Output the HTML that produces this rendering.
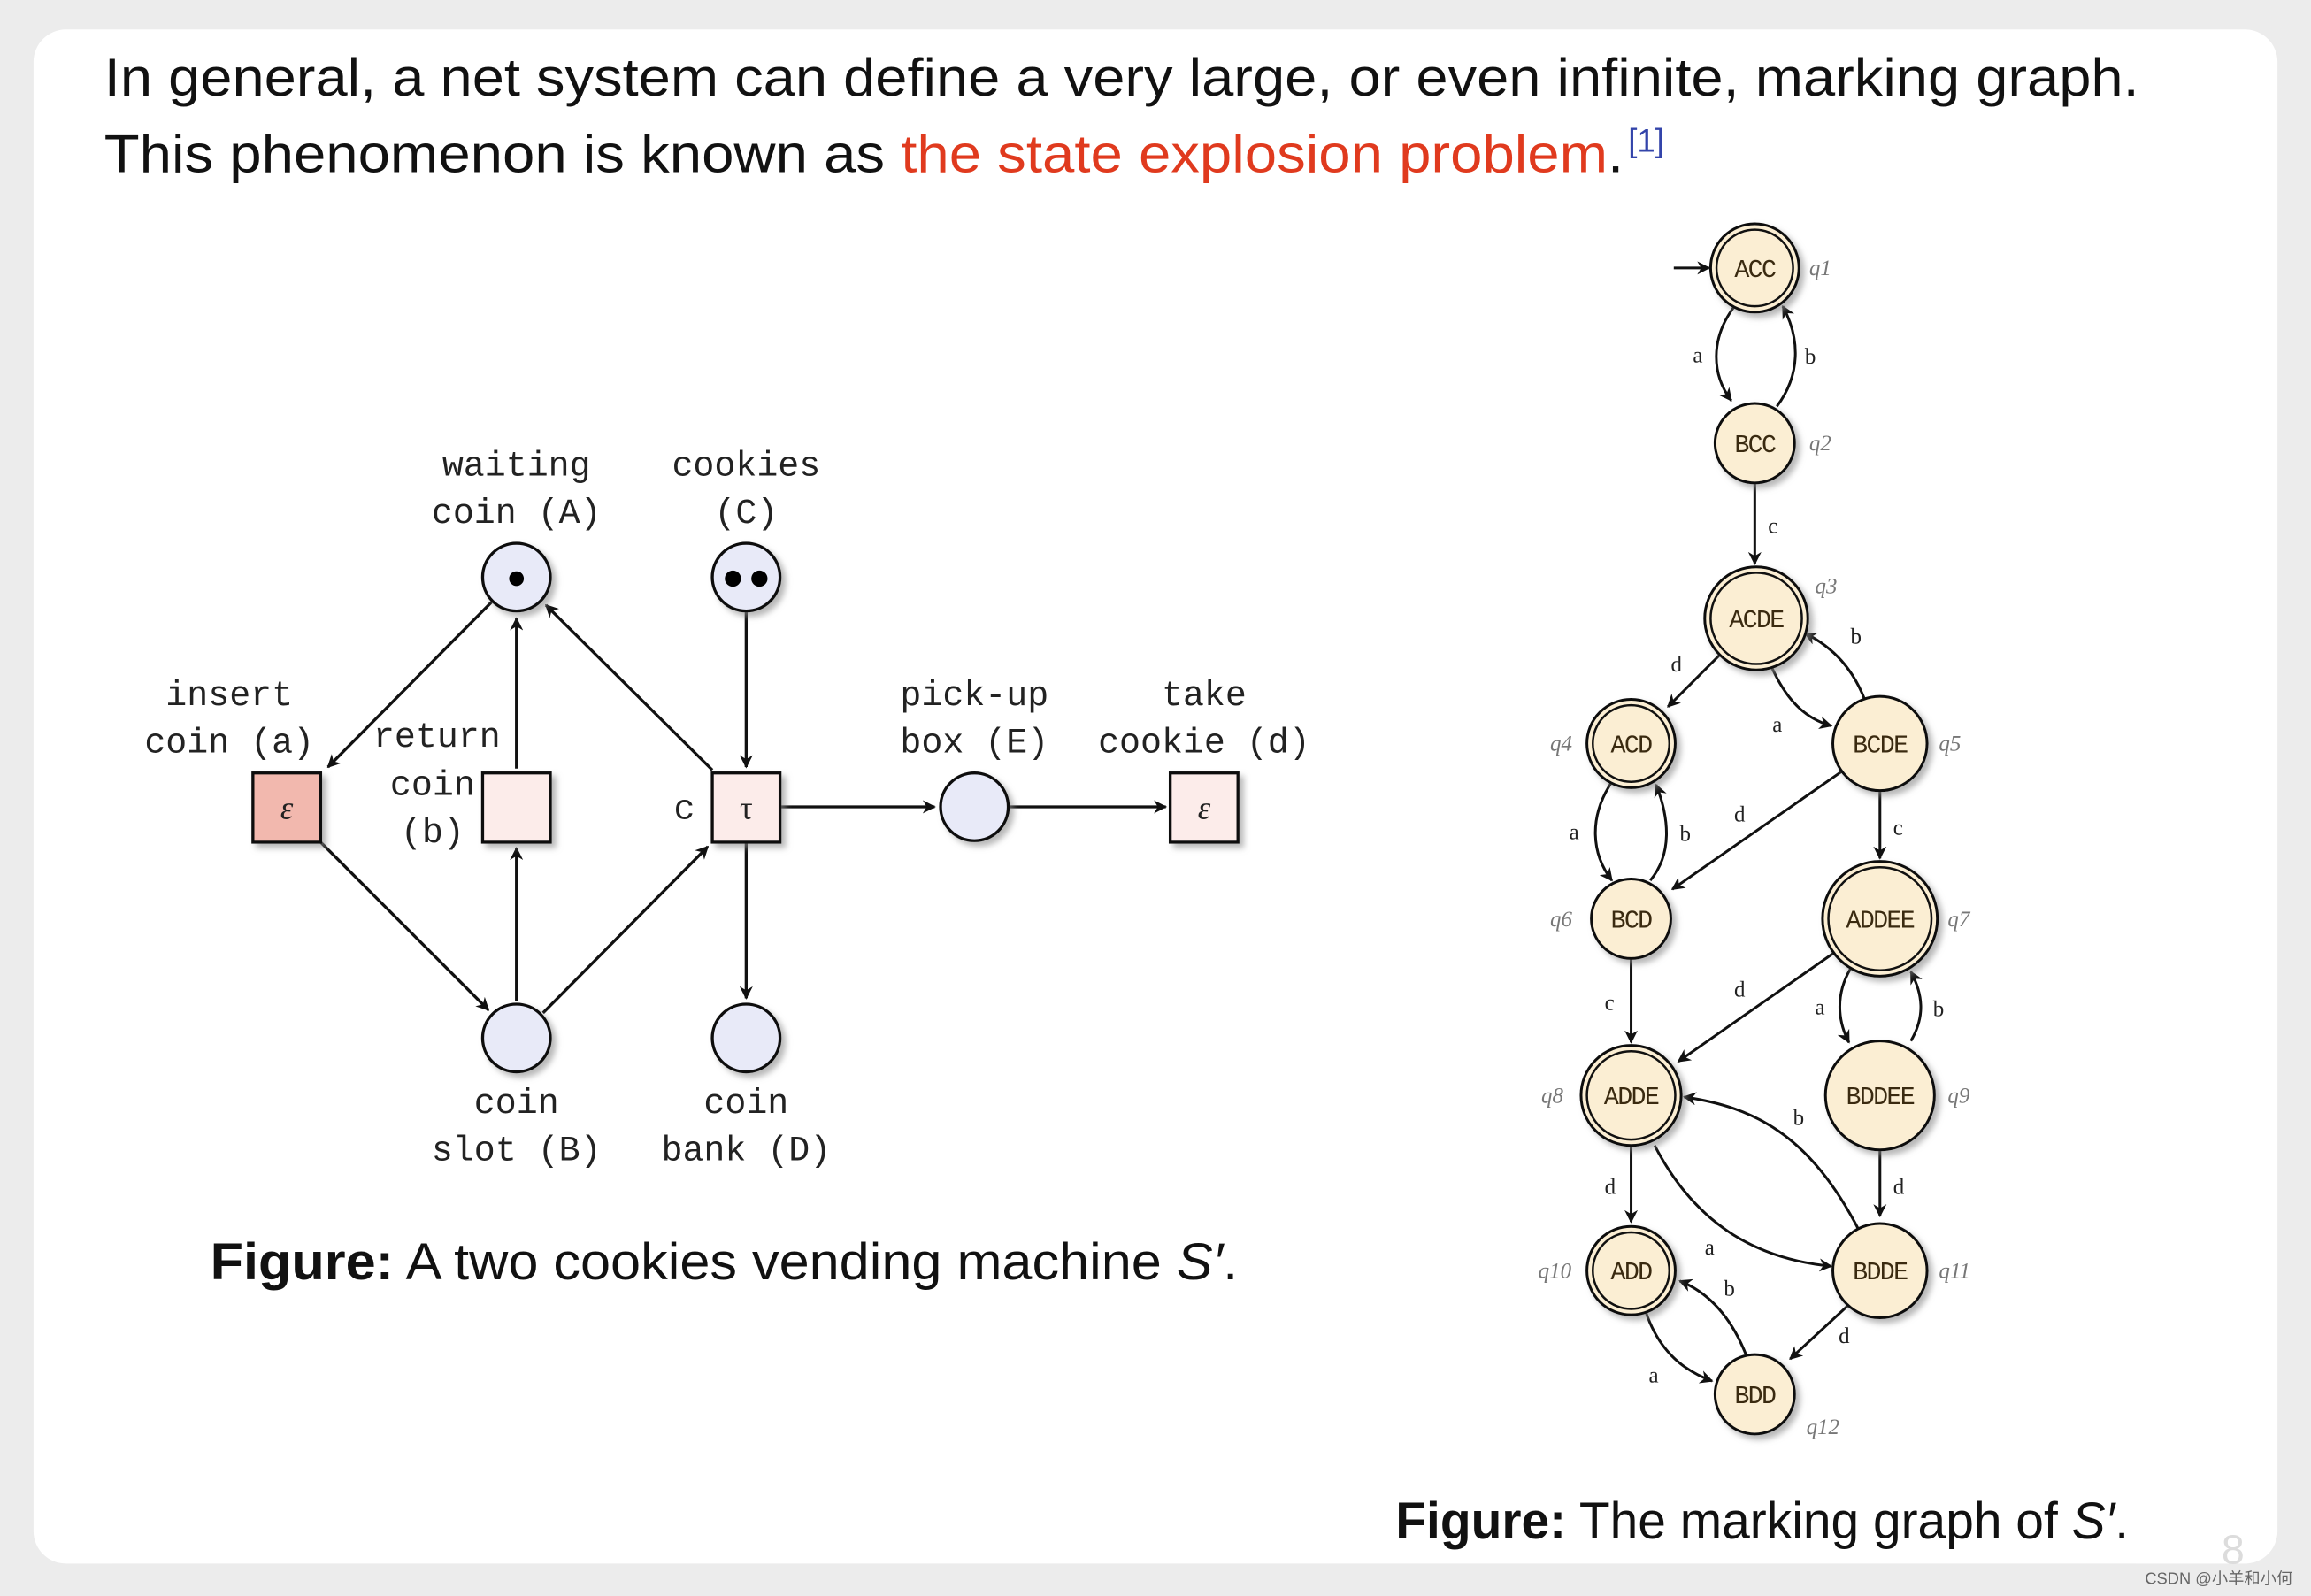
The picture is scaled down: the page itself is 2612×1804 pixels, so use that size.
<!DOCTYPE html>
<html><head><meta charset="utf-8"><style>
html,body{margin:0;padding:0;background:#ececec;}
svg{display:block}
.m{font-family:"Liberation Mono",monospace;font-size:24px;fill:#222}
.s{font-family:"Liberation Sans",sans-serif;fill:#111}
.n{font-family:"Liberation Mono",monospace;font-size:17px;fill:#3a2a10;text-anchor:middle;letter-spacing:-1px}
.q{font-family:"Liberation Serif",serif;font-size:15px;font-style:italic;fill:#777}
.l{font-family:"Liberation Serif",serif;font-size:15px;fill:#222}
</style></head><body>
<svg width="2612" height="1804" viewBox="0 0 1568 1084" xmlns="http://www.w3.org/2000/svg">
<defs>
<marker id="ar" viewBox="0 0 10 10" refX="9" refY="5" markerWidth="9" markerHeight="9" orient="auto-start-reverse" markerUnits="userSpaceOnUse"><path d="M0,0 L10,5 L0,10 L3,5z" fill="#111"/></marker>
<filter id="sh" x="-20%" y="-20%" width="150%" height="150%"><feDropShadow dx="3" dy="3" stdDeviation="2" flood-color="#888" flood-opacity="0.6"/></filter>
</defs>
<rect x="0" y="0" width="1568" height="1084" fill="#ececec"/>
<rect x="22" y="20" width="1524" height="1042" rx="22" fill="#fff"/>
<text class="s" x="70" y="65" font-size="36" textLength="1382" lengthAdjust="spacingAndGlyphs">In general, a net system can define a very large, or even infinite, marking graph.</text>
<text class="s" x="70" y="117" font-size="36" textLength="1032" lengthAdjust="spacingAndGlyphs">This phenomenon is known as <tspan style="fill:#e03a1e">the state explosion problem</tspan>.</text>
<text x="1105" y="103" font-size="22" style="fill:#3344aa;font-family:'Liberation Sans',sans-serif">[1]</text>

<!-- Petri net -->
<g stroke="#111" stroke-width="2" fill="none" marker-end="url(#ar)">
<line x1="333" y1="409" x2="222" y2="521"/>
<line x1="350" y1="522" x2="350" y2="420"/>
<line x1="483" y1="523" x2="370" y2="411"/>
<line x1="506" y1="415" x2="506" y2="521"/>
<line x1="217" y1="572" x2="331" y2="686"/>
<line x1="350" y1="680" x2="350" y2="576"/>
<line x1="368" y1="688" x2="480" y2="575"/>
<line x1="506" y1="572" x2="506" y2="678"/>
<line x1="529" y1="548" x2="634" y2="548"/>
<line x1="685" y1="548" x2="791" y2="548"/>
</g>
<g filter="url(#sh)" stroke="#111" stroke-width="2">
<circle cx="350" cy="392" r="23" fill="#e8eaf8"/>
<circle cx="506" cy="392" r="23" fill="#e8eaf8"/>
<circle cx="350" cy="705" r="23" fill="#e8eaf8"/>
<circle cx="506" cy="705" r="23" fill="#e8eaf8"/>
<circle cx="661" cy="548" r="23" fill="#e8eaf8"/>
<rect x="171" y="525" width="46" height="47" fill="#f2b8ae"/>
<rect x="327" y="525" width="46" height="47" fill="#fcecea"/>
<rect x="483" y="525" width="46" height="47" fill="#fcecea"/>
<rect x="794" y="525" width="46" height="47" fill="#fcecea"/>
</g>
<circle cx="350" cy="393" r="5" fill="#000"/>
<circle cx="497" cy="393" r="5.5" fill="#000"/><circle cx="515" cy="393" r="5.5" fill="#000"/>
<text class="l" x="194" y="556" text-anchor="middle" style="font-size:22px;font-style:italic">ε</text>
<text class="l" x="506" y="556" text-anchor="middle" style="font-size:22px">τ</text>
<text class="l" x="817" y="556" text-anchor="middle" style="font-size:22px;font-style:italic">ε</text>
<g class="m" text-anchor="middle">
<text x="350" y="323">waiting</text><text x="350" y="355">coin (A)</text>
<text x="506" y="323">cookies</text><text x="506" y="355">(C)</text>
<text x="155" y="479">insert</text><text x="155" y="511">coin (a)</text>
<text x="296" y="507">return</text><text x="293" y="540">coin</text><text x="293" y="572">(b)</text>
<text x="464" y="556">c</text>
<text x="661" y="479">pick-up</text><text x="661" y="511">box (E)</text>
<text x="817" y="479">take</text><text x="817" y="511">cookie (d)</text>
<text x="350" y="756">coin</text><text x="350" y="788">slot (B)</text>
<text x="506" y="756">coin</text><text x="506" y="788">bank (D)</text>
</g>
<text class="s" x="142" y="869" font-size="35" textLength="698" lengthAdjust="spacingAndGlyphs"><tspan font-weight="bold">Figure:</tspan> A two cookies vending machine <tspan font-style="italic">S′</tspan>.</text>

<!-- Marking graph edges -->
<g stroke="#111" stroke-width="1.8" fill="none" marker-end="url(#ar)">
<line x1="1136" y1="182" x2="1160" y2="182"/>
<path d="M1178,207 C1160,230 1162,255 1175,272"/>
<path d="M1206,276 C1222,255 1222,230 1210,208"/>
<line x1="1191" y1="328" x2="1191" y2="383"/>
<line x1="1168" y1="444" x2="1132" y2="480"/>
<path d="M1202,452 C1212,475 1225,488 1243,493"/>
<path d="M1266,476 C1258,455 1245,440 1225,430"/>
<path d="M1094,531 C1078,555 1080,580 1094,598"/>
<path d="M1120,598 C1135,580 1133,556 1124,533"/>
<line x1="1250" y1="524" x2="1135" y2="604"/>
<line x1="1276" y1="537" x2="1276" y2="583"/>
<line x1="1245" y1="647" x2="1139" y2="721"/>
<path d="M1256,658 C1246,675 1247,693 1255,708"/>
<path d="M1297,707 C1307,690 1305,675 1297,660"/>
<line x1="1107" y1="651" x2="1107" y2="708"/>
<line x1="1276" y1="780" x2="1276" y2="826"/>
<path d="M1262,836 C1228,770 1190,752 1143,745"/>
<path d="M1123,778 C1150,830 1190,855 1243,860"/>
<line x1="1107" y1="776" x2="1107" y2="830"/>
<path d="M1117,891 C1125,915 1140,930 1162,938"/>
<path d="M1185,920 C1175,895 1160,878 1140,870"/>
<line x1="1254" y1="887" x2="1215" y2="923"/>
</g>
<g filter="url(#sh)" stroke="#111" stroke-width="1.8" fill="#fbeed3">
<circle cx="1191" cy="182" r="30"/>
<circle cx="1191" cy="301" r="27"/>
<circle cx="1192" cy="420" r="35"/>
<circle cx="1107" cy="505" r="30"/>
<circle cx="1276" cy="505" r="32"/>
<circle cx="1107" cy="624" r="27"/>
<circle cx="1276" cy="624" r="39"/>
<circle cx="1107" cy="744" r="34"/>
<circle cx="1276" cy="744" r="37"/>
<circle cx="1107" cy="863" r="30"/>
<circle cx="1276" cy="863" r="32"/>
<circle cx="1191" cy="947" r="27"/>
</g>
<g stroke="#111" stroke-width="1.5" fill="none">
<circle cx="1191" cy="182" r="26"/>
<circle cx="1192" cy="420" r="31"/>
<circle cx="1107" cy="505" r="26"/>
<circle cx="1276" cy="624" r="35"/>
<circle cx="1107" cy="744" r="30"/>
<circle cx="1107" cy="863" r="26"/>
</g>
<g class="n">
<text x="1191" y="188">ACC</text><text x="1191" y="307">BCC</text>
<text x="1192" y="426">ACDE</text><text x="1107" y="511">ACD</text>
<text x="1276" y="511">BCDE</text><text x="1107" y="630">BCD</text>
<text x="1276" y="630">ADDEE</text><text x="1107" y="750">ADDE</text>
<text x="1276" y="750">BDDEE</text><text x="1107" y="869">ADD</text>
<text x="1276" y="869">BDDE</text><text x="1191" y="953">BDD</text>
</g>
<g class="q">
<text x="1228" y="187">q1</text><text x="1228" y="306">q2</text>
<text x="1232" y="403">q3</text><text x="1052" y="510">q4</text>
<text x="1316" y="510">q5</text><text x="1052" y="629">q6</text>
<text x="1322" y="629">q7</text><text x="1046" y="749">q8</text>
<text x="1322" y="749">q9</text><text x="1044" y="868">q10</text>
<text x="1316" y="868">q11</text><text x="1226" y="974">q12</text>
</g>
<g class="l">
<text x="1149" y="246">a</text><text x="1225" y="247">b</text>
<text x="1200" y="362">c</text>
<text x="1134" y="456">d</text><text x="1256" y="437">b</text><text x="1203" y="497">a</text>
<text x="1065" y="570">a</text><text x="1140" y="571">b</text><text x="1177" y="558">d</text>
<text x="1285" y="567">c</text>
<text x="1177" y="677">d</text><text x="1232" y="689">a</text><text x="1312" y="690">b</text>
<text x="1089" y="686">c</text>
<text x="1217" y="764">b</text><text x="1285" y="811">d</text>
<text x="1089" y="811">d</text><text x="1157" y="852">a</text>
<text x="1170" y="880">b</text><text x="1119" y="939">a</text><text x="1248" y="912">d</text>
</g>
<text class="s" x="947" y="1045" font-size="35" textLength="498" lengthAdjust="spacingAndGlyphs"><tspan font-weight="bold">Figure:</tspan> The marking graph of <tspan font-style="italic">S′</tspan>.</text>
<text x="1508" y="1062" style="font-family:'Liberation Sans',sans-serif;font-size:28px;fill:#dcdcdc">8</text>
<text x="1456" y="1076" style="font-family:'Liberation Sans','Noto Sans CJK SC',sans-serif;font-size:11px;fill:#666">CSDN @小羊和小何</text>
</svg>
</body></html>
